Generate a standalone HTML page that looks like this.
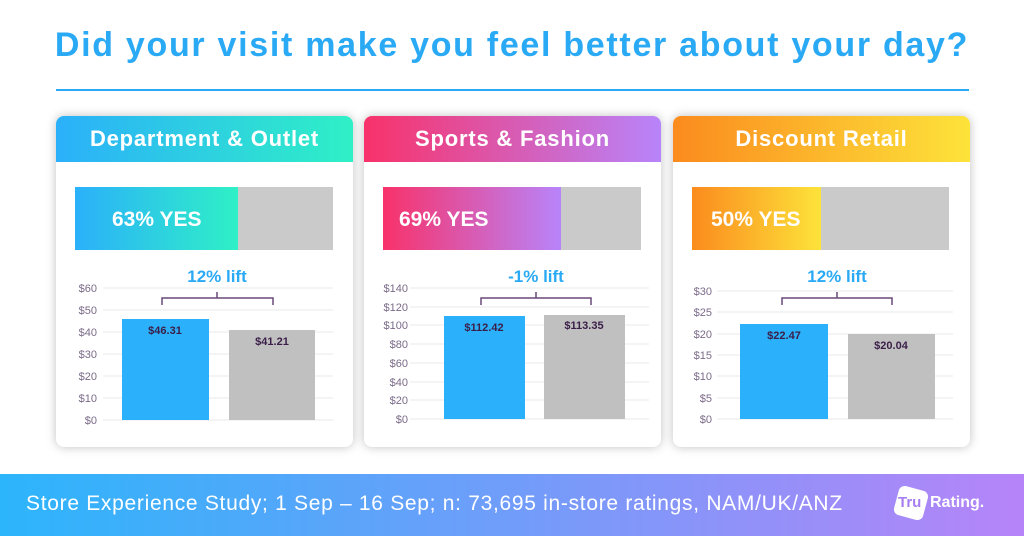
<!DOCTYPE html>
<html><head><meta charset="utf-8"><style>
body{margin:0;width:1024px;height:536px;background:#fff;position:relative;overflow:hidden;font-family:"Liberation Sans",sans-serif}
.title{position:absolute;left:0;width:1024px;top:26px;text-align:center;color:#2aa9f5;font-weight:bold;font-size:34px;letter-spacing:1.7px}
.rule{position:absolute;left:56px;width:913px;top:89px;height:2px;background:#2aa9f5}
.card{position:absolute;top:116px;width:297px;height:331px;background:#fff;border-radius:8px;box-shadow:0 0 10px rgba(0,0,0,.25);overflow:hidden}
.hd{height:46px;color:#fff;font-weight:bold;font-size:22px;letter-spacing:0.8px;text-align:center;line-height:46px}
.footer{position:absolute;left:0;top:474px;width:1024px;height:62px;background:linear-gradient(90deg,#2cb5fb,#b684f8)}
.ft{position:absolute;left:26px;top:18px;color:#fff;font-size:21px;letter-spacing:0.7px}
svg{position:absolute;left:0;top:0}
</style></head><body>
<div class="title">Did your visit make you feel better about your day?</div>
<div class="rule"></div>
<div class="card" style="left:56px"><div class="hd" style="background:linear-gradient(90deg,#2bb0fa,#2ff0c6)">Department &amp; Outlet</div></div>
<div class="card" style="left:364px"><div class="hd" style="background:linear-gradient(90deg,#f8326a,#b884fa)">Sports &amp; Fashion</div></div>
<div class="card" style="left:673px"><div class="hd" style="background:linear-gradient(90deg,#fb8b1e,#fde33a)">Discount Retail</div></div>
<div class="footer"><div class="ft">Store Experience Study; 1 Sep – 16 Sep; n: 73,695 in-store ratings, NAM/UK/ANZ</div>
<div style="position:absolute;left:896px;top:14px;width:30px;height:30px;background:#fff;border-radius:6px;transform:rotate(15deg)"></div>
<div style="position:absolute;left:898px;top:20px;color:#a77ef0;font-weight:bold;font-size:15px">Tru</div>
<div style="position:absolute;left:930px;top:20px;color:#fff;font-weight:bold;font-size:16px">Rating.</div></div>
<svg width="1024" height="536" font-family="Liberation Sans, sans-serif">
<defs>
<linearGradient id="g1"><stop offset="0" stop-color="#2bb0fa"/><stop offset="1" stop-color="#2ff0c6"/></linearGradient>
<linearGradient id="g2"><stop offset="0" stop-color="#f8326a"/><stop offset="1" stop-color="#b884fa"/></linearGradient>
<linearGradient id="g3"><stop offset="0" stop-color="#fb8b1e"/><stop offset="1" stop-color="#fde33a"/></linearGradient>
</defs>
<g font-size="21" font-weight="bold" fill="#fff">
<rect x="75" y="187" width="258" height="63" fill="#cacaca"/><rect x="75" y="187" width="163" height="63" fill="url(#g1)"/><text x="112" y="226">63% YES</text>
<rect x="383" y="187" width="258" height="63" fill="#cacaca"/><rect x="383" y="187" width="178" height="63" fill="url(#g2)"/><text x="399" y="226">69% YES</text>
<rect x="692" y="187" width="257" height="63" fill="#cacaca"/><rect x="692" y="187" width="129" height="63" fill="url(#g3)"/><text x="711" y="226">50% YES</text>
</g>
<g stroke="#e8e8e8" stroke-width="1">
<path d="M103 288H333M103 310H333M103 332H333M103 354H333M103 376H333M103 398H333M103 420H333"/>
<path d="M410 288H649M410 307H649M410 325H649M410 344H649M410 363H649M410 382H649M410 400H649M410 419H649"/>
<path d="M717 291H953M717 312H953M717 334H953M717 355H953M717 376H953M717 398H953M717 419H953"/>
</g>
<g font-size="11" fill="#7a6a88" text-anchor="end">
<text x="97" y="292">$60</text><text x="97" y="314">$50</text><text x="97" y="336">$40</text><text x="97" y="358">$30</text><text x="97" y="380">$20</text><text x="97" y="402">$10</text><text x="97" y="424">$0</text>
<text x="408" y="292">$140</text><text x="408" y="311">$120</text><text x="408" y="329">$100</text><text x="408" y="348">$80</text><text x="408" y="367">$60</text><text x="408" y="386">$40</text><text x="408" y="404">$20</text><text x="408" y="423">$0</text>
<text x="712" y="295">$30</text><text x="712" y="316">$25</text><text x="712" y="338">$20</text><text x="712" y="359">$15</text><text x="712" y="380">$10</text><text x="712" y="402">$5</text><text x="712" y="423">$0</text>
</g>
<rect x="122" y="319" width="87" height="101" fill="#2bb1fb"/><rect x="229" y="330" width="86" height="90" fill="#c0c0c0"/>
<rect x="444" y="316" width="81" height="103" fill="#2bb1fb"/><rect x="544" y="315" width="81" height="104" fill="#c0c0c0"/>
<rect x="740" y="324" width="88" height="95" fill="#2bb1fb"/><rect x="848" y="334" width="87" height="85" fill="#c0c0c0"/>
<g font-size="11" font-weight="bold" fill="#3a1e48" text-anchor="middle">
<text x="165" y="334">$46.31</text><text x="272" y="345">$41.21</text>
<text x="484" y="331">$112.42</text><text x="584" y="329">$113.35</text>
<text x="784" y="339">$22.47</text><text x="891" y="349">$20.04</text>
</g>
<g stroke="#6a4a7a" stroke-width="1.5" fill="none">
<path d="M162 305V298H273V305M217 298V292"/>
<path d="M481 305V298H591V305M536 298V292"/>
<path d="M782 305V298H892V305M837 298V292"/>
</g>
<g font-size="17" font-weight="bold" fill="#2aa9f5" text-anchor="middle">
<text x="217" y="282">12% lift</text><text x="536" y="282">-1% lift</text><text x="837" y="282">12% lift</text>
</g>
</svg>
</body></html>
